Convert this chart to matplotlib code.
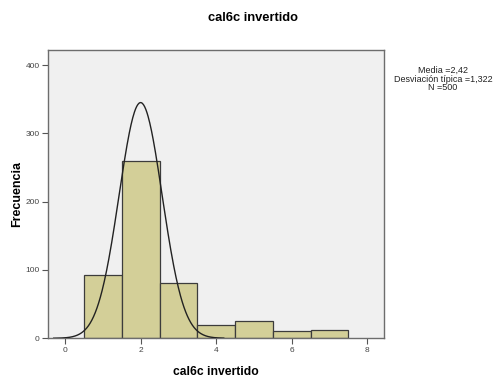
import matplotlib
matplotlib.use("Agg")
import matplotlib.pyplot as plt
import numpy as np

plt.rcParams['font.family'] = ['Liberation Sans', 'DejaVu Sans']

# histogram bins (width 1) and counts
bin_edges = [0.5, 1.5, 2.5, 3.5, 4.5, 5.5, 6.5, 7.5]
counts = [92, 259, 81, 19, 26, 11, 12]

# fitted normal curve as drawn (centre, spread, height)
curve_mean = 2.0
curve_sd = 0.57
curve_peak = 345
curve_from, curve_to = -0.3, 4.2

stats_lines = ["Media =2,42", "Desviación típica =1,322", "N =500"]

x_ticks = [0, 2, 4, 6, 8]
y_ticks = [0, 100, 200, 300, 400]

W, H = 494, 381
fig = plt.figure(figsize=(W / 100, H / 100), dpi=100)
ax = fig.add_axes([0.0972, 0.1121, 0.6801, 0.7567])
ax.set_facecolor('#f0f0f0')

widths = np.diff(bin_edges)
ax.bar(bin_edges[:-1], counts, width=widths, align='edge',
       color='#d3cf98', edgecolor='#3c3c3c', linewidth=0.9, zorder=2)

xs = np.linspace(curve_from, curve_to, 300)
ys = curve_peak * np.exp(-0.5 * ((xs - curve_mean) / curve_sd) ** 2)
ax.plot(xs, ys, color='#222222', linewidth=1.0, zorder=3)

ax.set_xlim(-0.45, 8.44)
ax.set_ylim(0, 422)
ax.set_xticks(x_ticks)
ax.set_yticks(y_ticks)
ax.tick_params(axis='both', direction='out', length=4, width=0.8,
               color='#555555', labelsize=6, labelcolor='#444444', pad=2)
for s in ax.spines.values():
    s.set_color('#6d6d6d')
    s.set_linewidth(1.0)

# labels placed in pixel positions of the reference
fig.text(216 / W, 1 - 372 / H, 'cal6c invertido', fontsize=8.7,
         fontweight='bold', ha='center', va='center')
fig.text(17 / W, 1 - 194 / H, 'Frecuencia', fontsize=9, fontweight='bold',
         ha='center', va='center', rotation=90)
fig.text(252.5 / W, 1 - 17.7 / H, 'cal6c invertido', fontsize=9.3,
         fontweight='bold', ha='center', va='center')

for i, line in enumerate(stats_lines):
    fig.text(443 / W, 1 - (70 + 9 * i) / H, line, fontsize=6.5,
             ha='center', va='center', color='#222222')

fig.savefig('out.png', dpi=100)
